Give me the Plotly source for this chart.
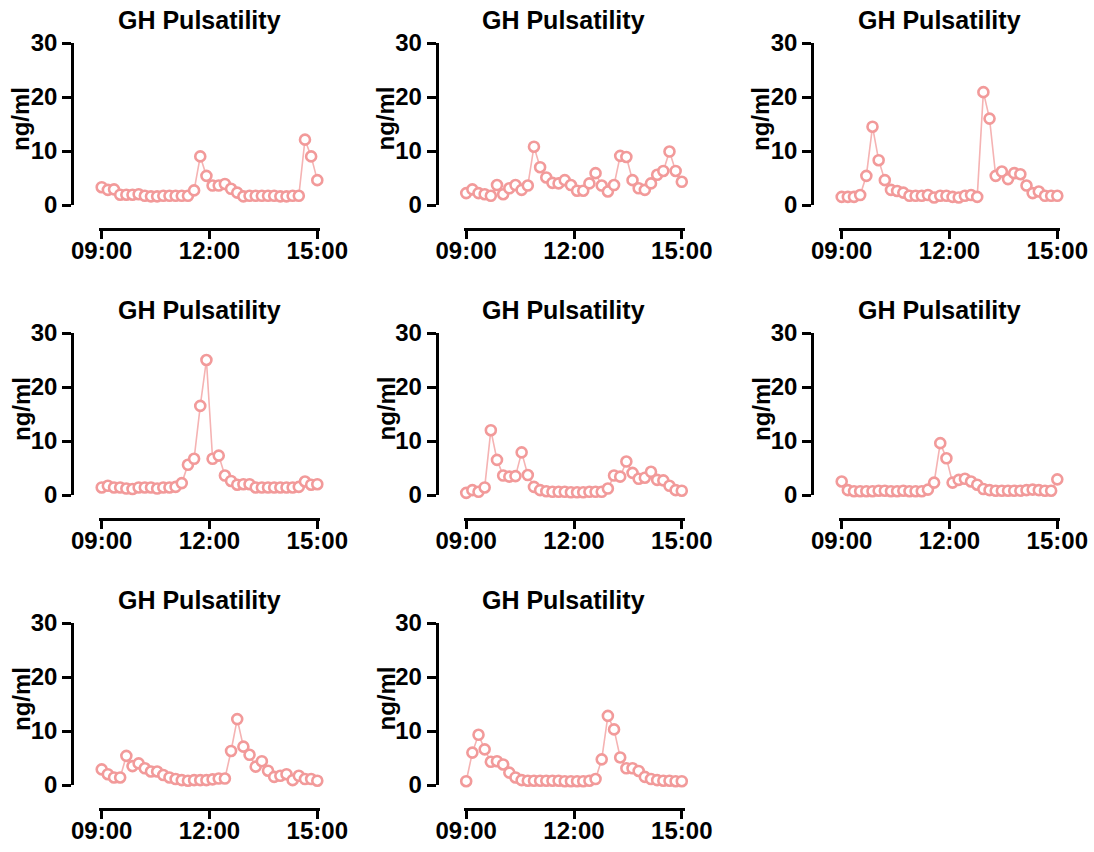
import plotly.graph_objects as go

# ---------------- data ----------------
n_points = 36
hours = [9 + 6 * i / (n_points - 1) for i in range(n_points)]  # sample times (h)

tick_vals = [9, 12, 15]
tick_text = ["09:00", "12:00", "15:00"]
y_ticks = [0, 10, 20, 30]

panel_title = "GH Pulsatility"
y_label = "ng/ml"

subject1 = [3.3, 2.8, 2.9, 1.9, 1.9, 1.9, 2.0, 1.7, 1.6, 1.6, 1.7, 1.7, 1.7, 1.7, 1.7, 2.7,
            9.0, 5.4, 3.6, 3.6, 3.9, 3.0, 2.3, 1.6, 1.7, 1.7, 1.7, 1.7, 1.7, 1.6, 1.6, 1.7,
            1.7, 12.1, 9.0, 4.6]
subject2 = [2.2, 2.9, 2.2, 2.0, 1.7, 3.7, 2.0, 3.1, 3.7, 2.8, 3.6, 10.8, 7.0, 5.1, 4.1, 4.0,
            4.6, 3.7, 2.65, 2.65, 4.0, 5.9, 3.6, 2.5, 3.7, 9.1, 8.9, 4.6, 3.1, 2.8, 4.0, 5.6,
            6.3, 9.9, 6.3, 4.3]
subject3 = [1.5, 1.5, 1.5, 1.85, 5.4, 14.5, 8.3, 4.6, 2.8, 2.6, 2.3, 1.7, 1.7, 1.7, 1.85, 1.4,
            1.7, 1.7, 1.5, 1.4, 1.7, 1.85, 1.5, 20.9, 16.0, 5.4, 6.2, 4.8, 5.9, 5.7, 3.6, 2.2,
            2.5, 1.7, 1.7, 1.7]
subject4 = [1.4, 1.7, 1.4, 1.4, 1.2, 1.1, 1.4, 1.4, 1.4, 1.2, 1.4, 1.4, 1.5, 2.2, 5.6, 6.7,
            16.5, 25.0, 6.7, 7.3, 3.6, 2.6, 1.9, 2.0, 2.0, 1.4, 1.4, 1.4, 1.4, 1.4, 1.4, 1.4,
            1.5, 2.5, 1.9, 2.0]
subject5 = [0.4, 0.9, 0.6, 1.4, 12.0, 6.5, 3.6, 3.4, 3.5, 7.9, 3.7, 1.5, 0.9, 0.7, 0.6, 0.6,
            0.6, 0.5, 0.5, 0.5, 0.6, 0.6, 0.6, 1.2, 3.6, 3.4, 6.2, 4.1, 3.0, 3.2, 4.3, 2.8,
            2.7, 1.7, 0.9, 0.8]
subject6 = [2.5, 0.9, 0.7, 0.7, 0.7, 0.7, 0.8, 0.8, 0.7, 0.7, 0.8, 0.7, 0.7, 0.7, 1.0, 2.3,
            9.6, 6.8, 2.3, 2.8, 3.0, 2.5, 1.9, 1.1, 0.9, 0.8, 0.8, 0.8, 0.8, 0.8, 0.9, 1.0,
            0.9, 0.8, 0.8, 2.9]
subject7 = [2.9, 2.0, 1.4, 1.4, 5.4, 3.5, 4.0, 3.1, 2.5, 2.5, 1.85, 1.4, 1.1, 0.9, 0.8, 0.9,
            0.9, 0.9, 1.05, 1.2, 1.2, 6.3, 12.2, 7.1, 5.6, 3.4, 4.4, 2.65, 1.5, 1.7, 2.0, 0.9,
            1.7, 1.1, 1.1, 0.8]
subject8 = [0.7, 6.0, 9.3, 6.6, 4.3, 4.4, 3.8, 2.3, 1.4, 0.9, 0.8, 0.8, 0.8, 0.8, 0.8, 0.8,
            0.7, 0.7, 0.7, 0.7, 0.8, 1.1, 4.75, 12.8, 10.3, 5.1, 3.1, 3.1, 2.6, 1.5, 1.1, 0.9,
            0.8, 0.8, 0.7, 0.7]

subjects = [subject1, subject2, subject3, subject4, subject5, subject6, subject7, subject8]

# ---------------- layout helpers ----------------
W, H = 1094, 852
FONT = "Liberation Sans, Arial, Helvetica, sans-serif"
LINE_COLOR = "#F5B3B3"
MARKER_COLOR = "#F29A9A"

col_dx = [0, 364.5, 740]
row_dy = [0, 290, 580]


def px(x):
    return x / W


def py(y):
    return 1 - y / H


fig = go.Figure()
layout = dict(
    template="none",
    width=W, height=H,
    margin=dict(l=0, r=0, t=0, b=0, pad=0),
    paper_bgcolor="white", plot_bgcolor="white",
    showlegend=False,
    font=dict(family=FONT, color="black"),
)
annotations = []

for k, vals in enumerate(subjects):
    r, c = divmod(k, 3)
    dx, dy = col_dx[c], row_dy[r]
    idx = "" if k == 0 else str(k + 1)
    xa, ya = "x" + idx, "y" + idx

    fig.add_trace(go.Scatter(
        x=hours, y=vals, xaxis=xa, yaxis=ya, mode="lines+markers",
        line=dict(color=LINE_COLOR, width=1.6),
        marker=dict(symbol="circle", size=10, color="white",
                    line=dict(color=MARKER_COLOR, width=2.6)),
        cliponaxis=False,
    ))

    x_left, x_right = 99 + dx, 320 + dx
    y_top, y_bot = 43 + dy, 205 + dy
    xaxis_y = 229 + dy
    yaxis_x = 72 + dx

    layout["xaxis" + idx] = dict(
        domain=[px(x_left), px(x_right)], range=[8.925, 15.075],
        anchor="free", position=py(xaxis_y), automargin=False,
        showline=True, linecolor="black", linewidth=2.5,
        ticks="outside", ticklen=8, tickwidth=2.5, tickcolor="black",
        tickvals=tick_vals, ticktext=tick_text, ticklabelstandoff=-9,
        tickfont=dict(family=FONT, size=24, color="black", weight="bold"),
        showgrid=False, zeroline=False, fixedrange=True,
    )
    layout["yaxis" + idx] = dict(
        domain=[py(y_bot), py(y_top)], range=[0, 30],
        anchor="free", position=px(yaxis_x), automargin=False,
        showline=True, linecolor="black", linewidth=2.5,
        ticks="outside", ticklen=9, tickwidth=2.5, tickcolor="black",
        tickvals=y_ticks,
        tickfont=dict(family=FONT, size=24, color="black", weight="bold"),
        showgrid=False, zeroline=False, fixedrange=True,
    )
    annotations.append(dict(
        text=f"<b>{panel_title}</b>", xref="paper", yref="paper",
        x=px(199 + dx), y=py(20 + dy), xanchor="center", yanchor="middle",
        showarrow=False, font=dict(family=FONT, size=25, color="black"),
    ))
    annotations.append(dict(
        text=f"<b>{y_label}</b>", xref="paper", yref="paper",
        x=px(21 + dx), y=py(119 + dy), xanchor="center", yanchor="middle",
        textangle=-90, showarrow=False, font=dict(family=FONT, size=24, color="black"),
    ))

layout["annotations"] = annotations
fig.update_layout(**layout)

fig.write_html("out.html", config={"displayModeBar": False},
               post_script="document.body.style.margin='0';")
